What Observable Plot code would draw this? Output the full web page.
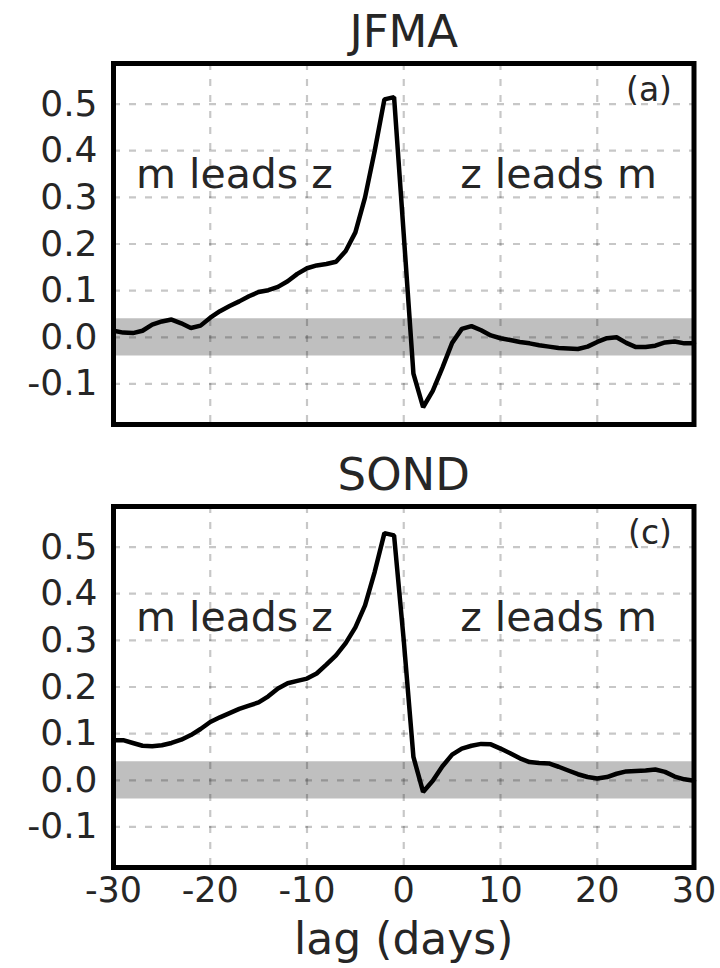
<!DOCTYPE html>
<html>
<head>
<meta charset="utf-8">
<script src="https://cdn.jsdelivr.net/npm/d3@7"></script>
<script src="https://cdn.jsdelivr.net/npm/@observablehq/plot@0.6"></script>
<style>
  html, body { margin: 0; padding: 0; background: #fff; }
  #chart { position: relative; width: 720px; height: 968px; }
  #chart svg { position: absolute; left: 0; overflow: visible; }
</style>
</head>
<body>
<div id="chart"></div>
<script>
// Lag in days (negative: m leads z; positive: z leads m)
const lags = d3.range(-30, 31);

// Lagged correlation, January–April
const jfma = [
  0.014, 0.010, 0.009, 0.014, 0.027, 0.034, 0.038, 0.030, 0.020, 0.025,
  0.042, 0.056, 0.067, 0.077, 0.088, 0.097, 0.101, 0.108, 0.120, 0.136,
  0.148, 0.154, 0.157, 0.162, 0.185, 0.225, 0.300, 0.400, 0.510, 0.515,
  0.220, -0.078, -0.150, -0.115, -0.065, -0.012, 0.018, 0.024, 0.015, 0.004,
  -0.002, -0.006, -0.010, -0.013, -0.017, -0.020, -0.023, -0.024, -0.025, -0.020,
  -0.010, -0.002, 0.000, -0.012, -0.021, -0.021, -0.018, -0.011, -0.009, -0.013,
  -0.013
];

// Lagged correlation, September–December
const sond = [
  0.086, 0.086, 0.080, 0.074, 0.073, 0.075, 0.080, 0.087, 0.097, 0.110,
  0.125, 0.135, 0.144, 0.153, 0.160, 0.167, 0.180, 0.197, 0.208, 0.213,
  0.218, 0.229, 0.248, 0.268, 0.294, 0.328, 0.375, 0.447, 0.530, 0.525,
  0.300, 0.050, -0.025, -0.001, 0.030, 0.055, 0.068, 0.074, 0.078, 0.077,
  0.068, 0.058, 0.047, 0.039, 0.037, 0.036, 0.029, 0.021, 0.013, 0.007,
  0.004, 0.007, 0.014, 0.019, 0.020, 0.021, 0.023, 0.018, 0.008, 0.002,
  -0.001
];

const xTicks = [-30, -20, -10, 0, 10, 20, 30];
const yTicks = [-0.1, 0.0, 0.1, 0.2, 0.3, 0.4, 0.5];
const significance = 0.04;   // half-width of the shaded band around zero
const xLabel = "lag (days)";

const panels = [
  {title: "JFMA", tag: "(a)", values: jfma},
  {title: "SOND", tag: "(c)", values: sond}
];

const font = "DejaVu Sans, sans-serif";
const ink = "#262626";

function panel({title, tag, values}, {top, height, marginTop, marginBottom, showX}) {
  const rows = lags.map((lag, i) => ({lag, r: values[i]}));
  const grid = {stroke: "#000", strokeOpacity: 0.22, strokeWidth: 2.2, strokeDasharray: "7,9"};
  const marks = [
    Plot.areaY(lags, {x: d => d, y1: -significance, y2: significance, fill: "#bfbfbf", curve: "step"}),
    Plot.gridX(xTicks, grid),
    Plot.gridY(yTicks, grid),
    Plot.line(rows, {x: "lag", y: "r", stroke: "#000", strokeWidth: 4.5, strokeLinejoin: "miter"}),
    Plot.text(["m leads z"], {x: -17.5, y: 0.32, text: d => d, lineAnchor: "bottom", fontSize: 41, fill: ink}),
    Plot.text(["z leads m"], {x: 16, y: 0.32, text: d => d, lineAnchor: "bottom", fontSize: 41, fill: ink}),
    Plot.text([tag], {frameAnchor: "top-right", text: d => d, dx: -22, dy: 14, fontSize: 33, fill: ink}),
    Plot.text([title], {frameAnchor: "top", text: d => d, dy: -17, lineAnchor: "bottom", fontSize: 45, fill: ink}),
    Plot.frame({stroke: "#000", strokeWidth: 5}),
    Plot.axisY(yTicks, {tickSize: 0, tickPadding: 16, tickFormat: d => d.toFixed(1), fontSize: 36, fill: ink, label: null}),
  ];
  if (showX) {
    marks.push(Plot.axisX(xTicks, {tickSize: 0, tickPadding: 10, tickFormat: d => String(d), fontSize: 35, fill: ink, label: null}));
    marks.push(Plot.text([xLabel], {frameAnchor: "bottom", text: d => d, dy: 86, lineAnchor: "bottom", fontSize: 44, fill: ink}));
  } else {
    marks.push(Plot.axisX({ticks: [], label: null}));
  }
  const svg = Plot.plot({
    width: 720,
    height,
    marginLeft: 113,
    marginRight: 26.5,
    marginTop,
    marginBottom,
    style: {fontFamily: font, background: "transparent", overflow: "visible"},
    x: {domain: [-30, 30]},
    y: {domain: [-0.187, 0.587]},
    marks
  });
  svg.style.top = top + "px";
  return svg;
}

const root = document.getElementById("chart");
root.appendChild(panel(panels[0], {top: 0, height: 444, marginTop: 63, marginBottom: 20, showX: false}));
root.appendChild(panel(panels[1], {top: 444, height: 524, marginTop: 62, marginBottom: 101, showX: true}));
</script>
</body>
</html>
